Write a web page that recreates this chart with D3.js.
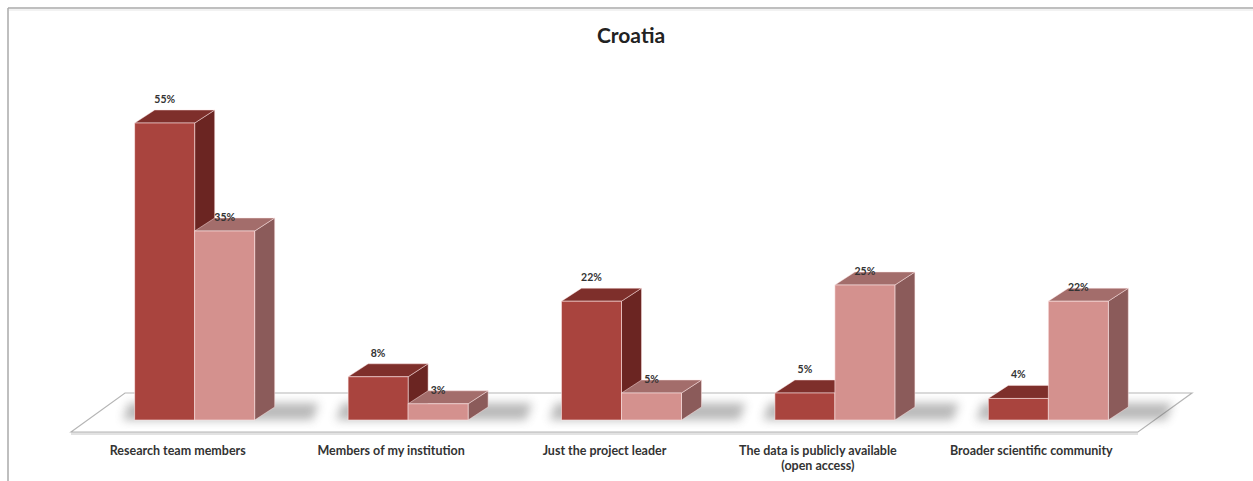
<!DOCTYPE html>
<html>
<head>
<meta charset="utf-8">
<script src="https://cdn.jsdelivr.net/npm/d3@7/dist/d3.min.js"></script>
<style>
  html, body { margin: 0; padding: 0; background: #fff; }
  svg { display: block; }
</style>
</head>
<body>
<svg id="chart" width="1253" height="481"></svg>
<script>
// ---- data ----
const title = "Croatia";
const categories = [
  "Research team members",
  "Members of my institution",
  "Just the project leader",
  "The data is publicly available\n(open access)",
  "Broader scientific community"
];
const seriesA = [55, 8, 22, 5, 4];   // dark red
const seriesB = [35, 3, 5, 25, 22];  // pink
const seriesNames = ["A", "B"];

// ---- layout ----
const W = 1253, H = 481;
const svg = d3.select("#chart");

const floorFrontY = 432, floorBackY = 393, floorShift = 54;
const x = d3.scaleBand().domain(categories).range([71, 1138]);
const baseY = 420;             // bar base front y
const baseShift = 17;          // x shift at bar base depth
const y = d3.scaleLinear().domain([0, 55]).range([baseY, 123]);
const barW = 60;
const dx = 20, dy = -13;       // bar depth offset

const colors = {
  A: { front: "#A9443E", top: "#7E2F2B", side: "#6B2522" },
  B: { front: "#D4918E", top: "#A36D6B", side: "#8B5B5A" }
};

// border
svg.append("line").attr("x1", 8).attr("y1", 8).attr("x2", W).attr("y2", 8)
  .attr("stroke", "#aaa").attr("stroke-width", 1.5);
svg.append("line").attr("x1", 8).attr("y1", 8).attr("x2", 8).attr("y2", H)
  .attr("stroke", "#aaa").attr("stroke-width", 1.5);
svg.append("line").attr("x1", 9).attr("y1", 10).attr("x2", W).attr("y2", 10)
  .attr("stroke", "#eee").attr("stroke-width", 1.5);

// title
svg.append("text").attr("x", 631).attr("y", 43).attr("text-anchor", "middle")
  .attr("font-family", "Lato, 'Open Sans', sans-serif").attr("font-weight", "bold")
  .attr("font-size", 21).attr("fill", "#222").text(title);

// defs: blur for shadow
const defs = svg.append("defs");
defs.append("filter").attr("id", "blur").attr("x", "-50%").attr("y", "-50%")
  .attr("width", "200%").attr("height", "200%")
  .append("feGaussianBlur").attr("stdDeviation", 5);

// floor
const r0 = x.range()[0], r1 = x.range()[1];
svg.append("polygon")
  .attr("points", [[r0, floorFrontY], [r1, floorFrontY], [r1, floorFrontY + 3], [r0, floorFrontY + 3]].join(" "))
  .attr("fill", "#e2e2e2");
svg.append("polygon")
  .attr("points", [[r0, floorFrontY], [r0 + floorShift, floorBackY], [r1 + floorShift, floorBackY], [r1, floorFrontY]].join(" "))
  .attr("fill", "#fff").attr("stroke", "#b5b5b5").attr("stroke-width", 1.2);

// shadows
const groups = categories.map((c, i) => ({ c, i, a: seriesA[i], b: seriesB[i] }));
svg.append("g").selectAll("polygon").data(groups).join("polygon")
  .attr("points", d => {
    const gx = x(d.c) + x.bandwidth() / 2 + baseShift - barW;
    const l = gx - 12, r = gx + 2 * barW + dx + 38;
    return [[l, baseY], [r, baseY], [r + 6, baseY + dy - 4], [l + 6, baseY + dy - 4]].join(" ");
  })
  .attr("fill", "#666").attr("opacity", 0.45).attr("filter", "url(#blur)");

// bars
function drawBar(g, x0, v, col) {
  const top = y(v);
  const x1 = x0 + barW;
  // side
  g.append("polygon")
    .attr("points", [[x1, top], [x1 + dx, top + dy], [x1 + dx, baseY + dy], [x1, baseY]].join(" "))
    .attr("fill", col.side).attr("stroke", "rgba(255,230,230,0.6)").attr("stroke-width", 0.8);
  // top
  g.append("polygon")
    .attr("points", [[x0, top], [x0 + dx, top + dy], [x1 + dx, top + dy], [x1, top]].join(" "))
    .attr("fill", col.top).attr("stroke", "rgba(255,230,230,0.6)").attr("stroke-width", 0.8);
  // front
  g.append("rect").attr("x", x0).attr("y", top).attr("width", barW).attr("height", baseY - top)
    .attr("fill", col.front).attr("stroke", "rgba(255,235,235,0.7)").attr("stroke-width", 0.8);
}

const barsG = svg.append("g");
groups.forEach(d => {
  const gx = x(d.c) + x.bandwidth() / 2 + baseShift - barW;
  const g = barsG.append("g");
  drawBar(g, gx, d.a, colors.A);
  drawBar(g, gx + barW, d.b, colors.B);
});

// value labels
const lblFont = "Lato, 'Open Sans', sans-serif";
groups.forEach(d => {
  const gx = x(d.c) + x.bandwidth() / 2 + baseShift - barW;
  svg.append("text").attr("x", gx + barW / 2).attr("y", y(d.a) + dy - 7)
    .attr("text-anchor", "middle").attr("font-family", lblFont).attr("font-weight", "bold")
    .attr("font-size", 10.5).attr("fill", "#333").text(d.a + "%");
  svg.append("text").attr("x", gx + barW * 1.5).attr("y", y(d.b) + dy + 3)
    .attr("text-anchor", "middle").attr("font-family", lblFont).attr("font-weight", "bold")
    .attr("font-size", 10.5).attr("fill", "#333").text(d.b + "%");
});

// category labels
const catG = svg.append("g");
categories.forEach(c => {
  const lines = c.split("\n");
  const t = catG.append("text").attr("x", x(c) + x.bandwidth() / 2).attr("y", 455)
    .attr("text-anchor", "middle").attr("font-family", lblFont).attr("font-weight", "bold")
    .attr("font-size", 12.5).attr("fill", "#333");
  lines.forEach((ln, k) => {
    t.append("tspan").attr("x", x(c) + x.bandwidth() / 2).attr("dy", k === 0 ? 0 : 15).text(ln);
  });
});
</script>
</body>
</html>
